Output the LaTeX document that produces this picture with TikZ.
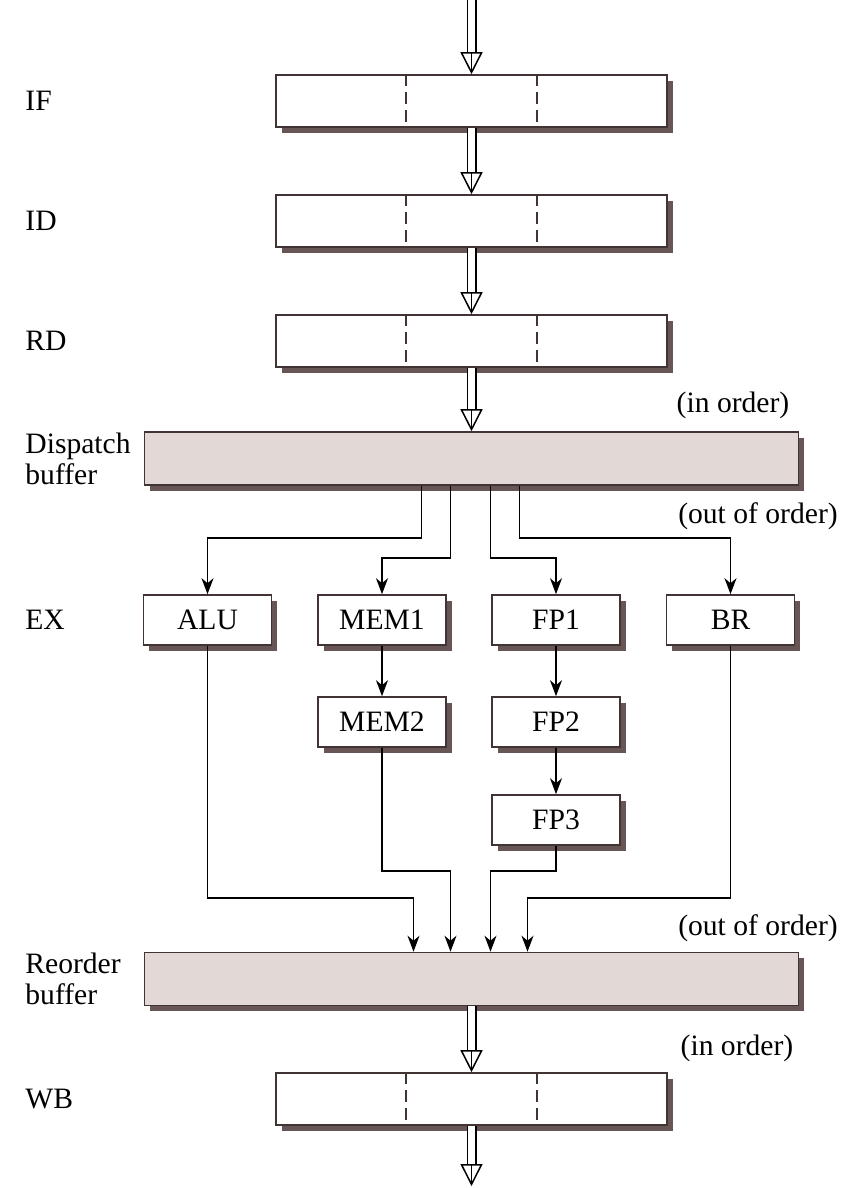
\documentclass[tikz,border=0pt]{standalone}
\usepackage{fontspec}
\setmainfont{Liberation Serif}
\usetikzlibrary{arrows.meta, positioning, calc, shadows}
\definecolor{boxline}  {RGB}{66,  52,  52}
\definecolor{boxshadow}{RGB}{104, 86,  86}
\definecolor{buffill}  {RGB}{226, 217, 215}

\tikzset{
	unit/.style={draw=boxline, line width=0.8pt, fill=white, inner sep=0pt,
		minimum width=64pt, minimum height=25pt,
		drop shadow={shadow xshift=2.8pt, shadow yshift=-2.8pt, fill=boxshadow, opacity=1}},
	stage/.style={unit, minimum width=195.5pt, minimum height=26pt},
	buffer/.style={unit, fill=buffill, minimum width=327pt, minimum height=26.5pt},
	lbl/.style={anchor=west, align=left, inner sep=0pt},
	flow/.style={line width=0.8pt, -{Stealth[length=8pt,width=6pt,inset=2.5pt]}},
	pipeshaft/.style={draw=black, double=white, line width=0.75pt, double distance=3.5pt, shorten >=10.6pt},
	pipehead/.style={line width=0.75pt, -{Triangle[open,length=11pt,width=11pt]}}
}
\newcommand\pipe[2]{\draw[pipeshaft] (#1) -- (#2); \draw[pipehead] ($(#2)+(0,-2)$) -- (#2);}

\begin{document}
\begin{tikzpicture}[x=0.5pt, y=-0.5pt, font=\fontsize{14.8}{15.5}\selectfont]
	\useasboundingbox (0,0) rectangle (852,1188);
	% pipeline stages
	\foreach \s/\y in {IF/101, ID/221, RD/341, WB/1099}{
		\node[stage] (\s) at (471.5,\y) {};
		\node[lbl] at (25,\y) {\s};
		\foreach \f in {1/3, 2/3}{
			\draw[boxline, line width=0.8pt, dash pattern=on 6pt off 3pt]
				($(\s.north west)!\f!(\s.north east)$) -- ($(\s.south west)!\f!(\s.south east)$);}
	}
	\node[buffer] (Disp) at (471.5,458.5) {};
	\node[lbl] at (25,458.5) {Dispatch\\buffer};
	\node[buffer] (Reo) at (471.5,979) {};
	\node[lbl] at (25,979) {Reorder\\buffer};
	% execution units
	\node[lbl] at (25,620) {EX};
	\node[unit] (ALU)  at (207.5,620) {ALU};
	\node[unit] (MEM1) at (382,620)   {MEM1};
	\node[unit] (FP1)  at (556,620)   {FP1};
	\node[unit] (BR)   at (730.5,620) {BR};
	\node[unit] (MEM2) at (382,722)   {MEM2};
	\node[unit] (FP2)  at (556,722)   {FP2};
	\node[unit] (FP3)  at (556,820)   {FP3};
	% order notes
	\node at (733,405)  {(in order)};
	\node at (758,516)  {(out of order)};
	\node at (758,928)  {(out of order)};
	\node at (737,1048) {(in order)};
	% wide arrows
	\coordinate (top) at (471.5,0);
	\coordinate (bot) at (471.5,1186);
	\pipe{top}{IF.north}
	\pipe{IF.south}{ID.north}
	\pipe{ID.south}{RD.north}
	\pipe{RD.south}{Disp.north}
	\pipe{Reo.south}{WB.north}
	\pipe{WB.south}{bot}
	% issue
	\draw[flow] ([xshift=-25pt]Disp.south) -- ++(0,52) -| (ALU.north);
	\draw[flow] ([xshift=-10.5pt]Disp.south) -- ++(0,72) -| (MEM1.north);
	\draw[flow] ([xshift=9.5pt]Disp.south) -- ++(0,72) -| (FP1.north);
	\draw[flow] ([xshift=24pt]Disp.south) -- ++(0,52) -| (BR.north);
	\draw[flow] (MEM1) -- (MEM2);
	\draw[flow] (FP1) -- (FP2);
	\draw[flow] (FP2) -- (FP3);
	% completion
	\draw[flow] (ALU.south) -- ++(0,252) -| ([xshift=-29pt]Reo.north);
	\draw[flow] (MEM2.south) -- ++(0,123) -| ([xshift=-10.5pt]Reo.north);
	\draw[flow] (FP3.south) -- ++(0,25) -| ([xshift=9.5pt]Reo.north);
	\draw[flow] (BR.south) -- ++(0,252) -| ([xshift=28pt]Reo.north);
\end{tikzpicture}
\end{document}
